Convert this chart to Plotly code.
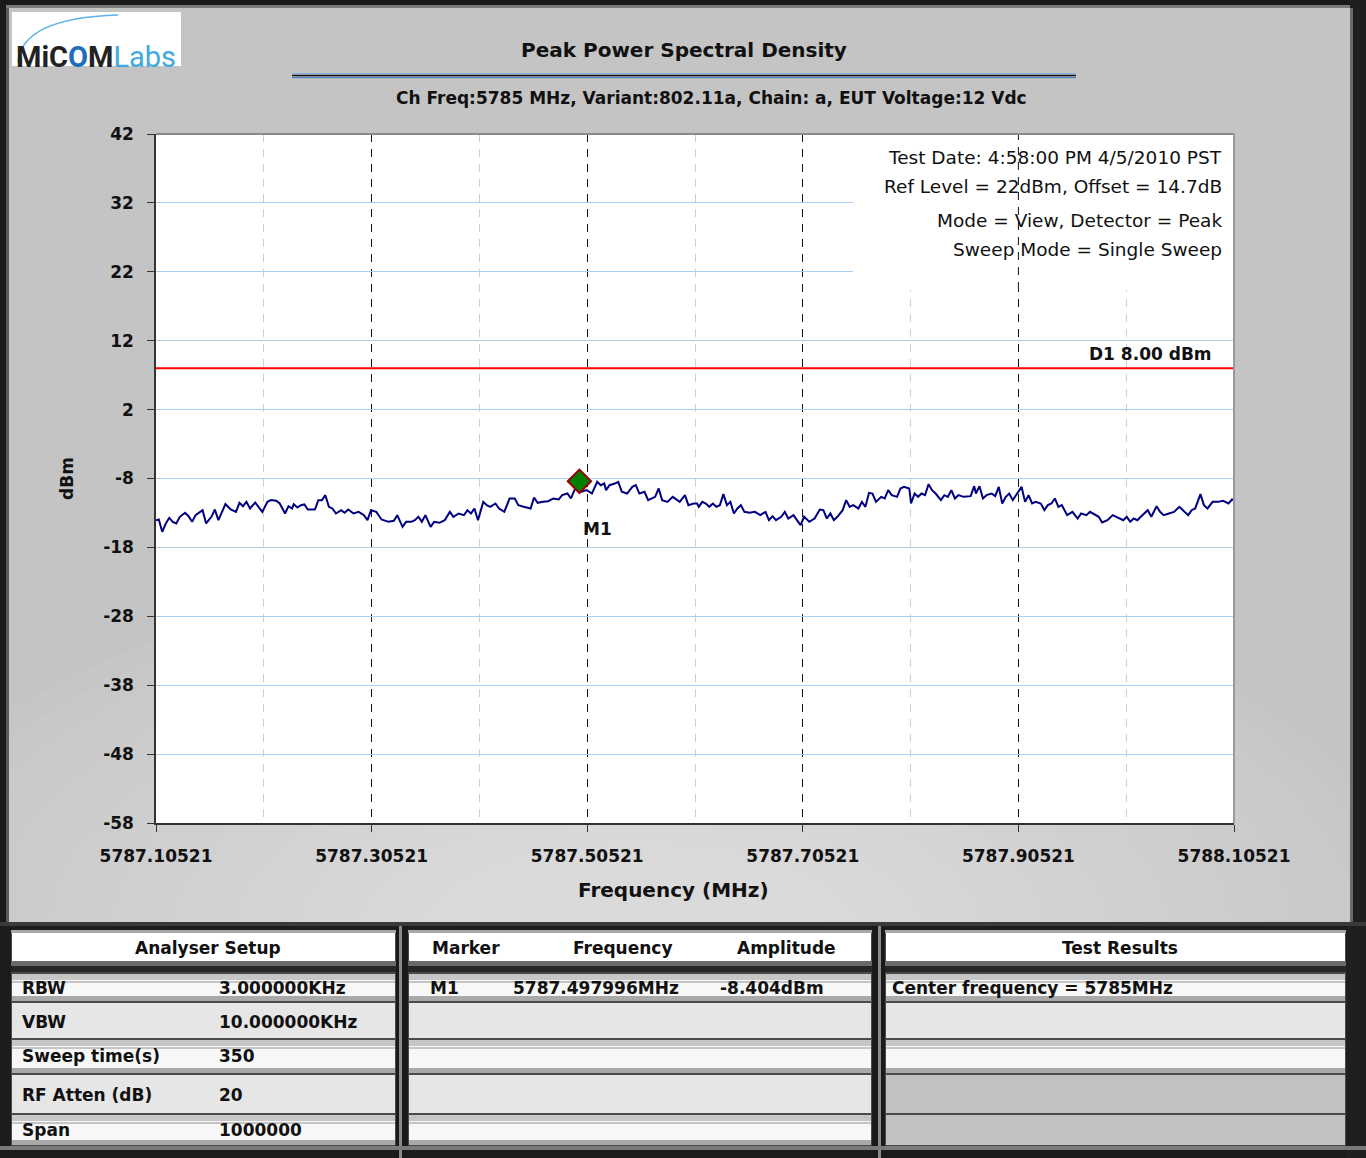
import plotly.graph_objects as go

# ---- chart data ----
START_MHZ = 5787.10521
STOP_MHZ = 5788.10521
X_TICKS = [5787.10521, 5787.30521, 5787.50521, 5787.70521, 5787.90521, 5788.10521]
Y_TICKS = [-58, -48, -38, -28, -18, -8, 2, 12, 22, 32, 42]

# trace: offset from START_MHZ in kHz, level in dBm
TRACE_KHZ = [
    0, 2.6, 5.8, 9.1, 12.3, 15.6, 18.8, 22.1, 27.0, 30.2, 33.5, 36.7, 43.2, 46.5,
    51.4, 54.6, 57.9, 61.1, 64.4, 69.3, 74.2, 77.4, 80.7, 83.9, 87.2, 92.0, 95.3,
    98.6, 103.4, 106.7, 111.6, 114.8, 119.7, 122.9, 126.2, 127.8, 131.1, 134.4,
    137.6, 140.9, 147.4, 150.6, 153.9, 157.1, 160.4, 163.6, 166.9, 171.8, 175.0,
    178.3, 183.2, 188.0, 192.9, 196.2, 199.4, 204.3, 209.2, 215.7, 220.6, 223.8,
    228.7, 232.0, 236.9, 240.1, 243.4, 246.6, 249.9, 254.7, 258.0, 262.9, 267.8,
    272.6, 275.9, 280.8, 285.7, 288.9, 292.2, 295.4, 298.7, 303.6, 306.8, 310.1,
    314.9, 318.2, 323.1, 328.0, 332.8, 336.1, 341.0, 347.5, 350.7, 354.0, 358.9,
    363.8, 368.6, 373.5, 376.8, 381.7, 384.9, 388.2, 391.4, 392.8, 394.7, 399.6,
    404.4, 409.3, 412.6, 415.8, 417.5, 420.7, 425.6, 428.8, 432.1, 437.0, 441.9,
    445.1, 448.4, 453.2, 456.5, 463.0, 466.3, 469.5, 474.4, 479.3, 485.8, 490.7,
    493.9, 498.8, 501.9, 503.5, 506.8, 510.0, 513.3, 516.6, 519.8, 523.1, 526.3,
    529.6, 532.8, 536.1, 539.3, 542.6, 545.8, 550.7, 555.6, 560.5, 565.4, 568.6,
    571.9, 575.1, 580.0, 583.3, 586.5, 591.4, 594.6, 597.9, 601.2, 606.0, 610.9,
    615.8, 619.1, 622.3, 625.6, 628.8, 632.1, 637.0, 640.2, 643.5, 646.7, 651.6,
    654.8, 658.1, 661.4, 664.6, 667.9, 672.7, 676.0, 679.2, 682.5, 687.4, 690.6,
    693.9, 698.8, 700.4, 703.7, 706.9, 710.2, 713.4, 716.7, 719.9, 723.2, 728.1,
    731.3, 734.6, 737.8, 741.1, 744.3, 749.2, 755.7, 759.0, 760.6, 763.9, 767.1,
    770.4, 775.2, 778.5, 781.8, 785.0, 788.3, 791.5, 794.8, 799.6, 802.9, 806.2,
    809.4, 812.7, 815.9, 820.8, 824.1, 827.3, 830.6, 833.8, 837.1, 840.3, 845.2,
    850.1, 855.0, 858.2, 863.1, 866.4, 869.6, 874.5, 877.7, 882.6, 887.5, 892.4,
    897.3, 900.5, 903.8, 907.0, 910.3, 913.5, 916.8, 920.0, 923.3, 928.2, 931.4,
    934.7, 939.6, 944.4, 949.3, 952.6, 957.5, 960.7, 964.0, 968.9, 972.1, 975.4,
    980.2, 985.1, 990.0, 994.9, 998.2, 1000.0,
]
TRACE_DBM = [
    -14.05, -13.95, -15.74, -14.53, -13.71, -14.29, -14.53, -13.56, -12.98, -13.47,
    -14.29, -13.32, -12.60, -14.53, -13.56, -12.50, -14.05, -12.84, -11.72, -12.50,
    -12.84, -11.53, -12.02, -11.39, -12.35, -11.48, -12.11, -12.84, -11.39, -11.14,
    -11.24, -11.63, -13.08, -12.02, -12.35, -11.72, -12.21, -11.87, -11.77, -12.50,
    -12.50, -11.14, -11.14, -10.42, -12.11, -12.35, -13.08, -12.60, -12.98, -12.50,
    -13.08, -12.84, -13.32, -14.05, -12.60, -12.84, -13.95, -14.29, -14.14, -13.32,
    -15.01, -14.29, -14.29, -14.05, -13.56, -14.29, -13.32, -15.01, -14.29, -14.43,
    -14.05, -12.84, -13.56, -13.08, -13.32, -12.60, -13.08, -12.35, -14.05, -11.39,
    -11.87, -12.11, -11.63, -12.35, -12.84, -10.90, -10.90, -11.87, -12.11, -12.35,
    -10.76, -11.53, -11.39, -11.29, -10.90, -11.05, -10.42, -10.18, -10.90, -9.69,
    -8.97, -8.40, -9.93, -9.69, -10.18, -8.48, -8.97, -8.73, -9.69, -8.97,
    -8.73, -8.48, -9.93, -10.18, -9.21, -8.97, -10.18, -9.93, -11.14, -10.66,
    -9.45, -11.14, -11.39, -10.66, -11.39, -10.42, -11.87, -11.63, -11.63, -12.11,
    -11.39, -11.63, -12.11, -11.63, -12.11, -11.87, -10.27, -11.87, -11.39, -13.08,
    -12.35, -11.87, -12.84, -12.98, -12.84, -13.32, -12.84, -14.05, -13.47, -14.05,
    -13.56, -12.84, -13.81, -13.32, -14.05, -14.77, -13.56, -14.29, -13.81, -12.50,
    -12.60, -13.81, -13.08, -14.05, -13.56, -12.60, -11.14, -12.11, -11.87, -12.35,
    -11.39, -12.11, -10.08, -10.18, -11.39, -10.66, -10.90, -9.69, -10.42, -10.66,
    -9.45, -9.21, -9.45, -11.63, -10.18, -10.66, -10.18, -10.42, -8.82, -9.69,
    -10.18, -11.14, -10.42, -10.66, -9.69, -10.90, -10.42, -10.66, -10.56, -9.11,
    -10.18, -9.11, -10.90, -10.42, -10.18, -10.56, -9.21, -11.63, -10.66, -10.18,
    -11.14, -9.93, -9.21, -11.39, -10.42, -11.63, -11.39, -11.63, -12.60, -11.87,
    -11.63, -10.90, -12.11, -11.87, -13.32, -12.84, -13.81, -13.08, -13.32, -12.84,
    -13.08, -13.56, -14.39, -14.05, -13.32, -13.66, -14.05, -13.56, -14.29, -13.81,
    -14.05, -13.56, -13.08, -12.60, -13.56, -12.02, -12.84, -13.32, -13.08, -12.84,
    -12.11, -12.60, -13.32, -12.60, -12.35, -10.27, -11.87, -12.35, -11.39, -11.39,
    -11.24, -11.63, -11.05, -11.14,
]

LIMIT_DBM = 8.0
M1_MHZ = 5787.497996
M1_DBM = -8.404

INFO_LINES = [
    "Test Date: 4:58:00 PM 4/5/2010 PST",
    "Ref Level = 22dBm, Offset = 14.7dB",
    "Mode = View, Detector = Peak",
    "Sweep Mode = Single Sweep",
]
SETUP_LABELS = ["RBW", "VBW", "Sweep time(s)", "RF Atten (dB)", "Span"]
SETUP_VALUES = ["3.000000KHz", "10.000000KHz", "350", "20", "1000000"]
MARKER_HEADERS = ["Marker", "Frequency", "Amplitude"]
MARKER_ROW = ["M1", "5787.497996MHz", "-8.404dBm"]
RESULT_LINES = ["Center frequency = 5785MHz"]

# ---- page geometry (pixels of the 1366 x 1158 page) ----
W, H = 1366, 1158
L, R, T, B = 156, 1234, 134, 823
FONT = "DejaVu Sans, sans-serif"
MAJOR_DASH = "8px,7px"


def px(x):
    return (x - L) / (R - L)


def py(y):
    return (B - y) / (B - T)


shapes = []


def box(x0, y0, x1, y1, fill, layer="below", opacity=1.0):
    shapes.append(dict(type="rect", xref="paper", yref="paper",
                       x0=px(x0), x1=px(x1), y0=py(y1), y1=py(y0),
                       fillcolor=fill, line=dict(width=0), layer=layer, opacity=opacity))


def hline(x0, x1, y, color, width=1, layer="below"):
    shapes.append(dict(type="line", xref="paper", yref="paper",
                       x0=px(x0), x1=px(x1), y0=py(y), y1=py(y),
                       line=dict(color=color, width=width), layer=layer))


annotations = []


def text(x, y, s, size=17, bold=True, anchor="left", color="#111", angle=0):
    annotations.append(dict(
        x=px(x), y=py(y), xref="paper", yref="paper", showarrow=False,
        text=f"<b>{s}</b>" if bold else s, xanchor=anchor, yanchor="middle",
        textangle=angle, font=dict(family=FONT, size=size, color=color),
    ))


# soft light glow low in the chart panel (radial-ish gradient)
for i in range(20):
    rx, ry = 780 - 31 * i, 370 - 15.5 * i
    shapes.append(dict(type="circle", xref="paper", yref="paper",
                       x0=px(640 - rx), x1=px(640 + rx), y0=py(930 + ry), y1=py(930 - ry),
                       fillcolor="white", opacity=0.034, line=dict(width=0), layer="below"))

# outer frame
box(0, 0, W, 5, "#1a1a1a")
box(0, 5, W, 8, "#7a7a7a")
box(0, 0, 6, 922, "#1a1a1a")
box(6, 8, 9, 922, "#5a5a5a")
box(1350, 0, W, 922, "#1f1f1f")
box(1350, 8, 1353, 922, "#6a6a6a")

# logo
box(12, 12, 181, 66, "white")
shapes.append(dict(type="path", xref="paper", yref="paper", layer="below",
                   path=f"M {px(18)},{py(62)} Q {px(22)},{py(18)} {px(118)},{py(15)}",
                   line=dict(color="#5fb3e6", width=1.5)))
annotations.append(dict(
    x=px(14), y=py(38), xref="paper", yref="paper", showarrow=False, xanchor="left",
    text="<b>MiC<span style='color:#1c6fb8'>O</span>M</b><span style='color:#3fa9e0'>Labs</span>",
    font=dict(family="Roboto, sans-serif", size=29, color="#222"),
))

# title block
text(684, 50, "Peak Power Spectral Density", size=20, anchor="center")
hline(292, 1076, 73.5, "#7fb2e0", 1)
hline(292, 1076, 75.5, "#111111", 1.5)
hline(292, 1076, 77.5, "#4f7fbf", 1.5)
text(711, 98, "Ch Freq:5785 MHz, Variant:802.11a, Chain: a, EUT Voltage:12 Vdc",
     size=17, anchor="center")

# white box behind the test info: covers the grid (no trace reaches up there)
BOX_LEFT, BOX_BOTTOM = 853, 290
box(BOX_LEFT, T, R, BOX_BOTTOM, "white", layer="above")
# the major dashed line that shows through the box
box_left_mhz = START_MHZ + px(BOX_LEFT) * (STOP_MHZ - START_MHZ)
for xv in X_TICKS[1:-1]:
    if xv > box_left_mhz:
        shapes.append(dict(type="line", xref="x", yref="paper", x0=xv, x1=xv,
                           y0=py(BOX_BOTTOM), y1=1,
                           line=dict(color="#111", width=1, dash=MAJOR_DASH), layer="above"))
# plot border (top / right)
hline(156, 1235, 134, "#8a8a8a", 2, layer="above")
shapes.append(dict(type="line", xref="paper", yref="paper", x0=px(1234), x1=px(1234),
                   y0=py(823), y1=py(133), line=dict(color="#9a9a9a", width=2), layer="above"))

for line, y in zip(INFO_LINES, [158, 187, 220, 249]):
    text(1224, y, line, size=18.5, bold=False, anchor="right")

text(673, 890, "Frequency (MHz)", size=20, anchor="center")
text(67, 479, "dBm", size=17, angle=-90, anchor="center")

# ---- bottom tables ----
box(0, 922, W, H, "#1c1c1c")
PANELS = [(11, 396), (408, 872), (885, 1346)]
ROWS = [(974, 1001), (1003, 1038), (1040, 1073), (1075, 1113), (1115, 1145)]
for pi, (x0, x1) in enumerate(PANELS):
    box(x0, 930, x1, 1146, "#4a4a4a")
    box(x0, 930, x1, 933, "#a8a8a8")
    box(x0 + 1, 933, x1 - 1, 961, "white")
    box(x0, 961, x1, 966, "#6a6a6a")
    box(x0, 966, x1, 972, "#262626")
    for ri, (y0, y1) in enumerate(ROWS):
        if pi == 2 and ri >= 3:
            box(x0 + 1, y0, x1 - 1, y1, "#c2c2c2")
            continue
        if ri % 2 == 0:
            box(x0 + 1, y0, x1 - 1, y1, "#f7f7f7")
            box(x0 + 1, y0, x1 - 1, y0 + 6, "#c6c6c6")
            hline(x0 + 1, x1 - 1, y0 + 8, "#7a7a7a", 0.8)
            box(x0 + 1, y1 - 5, x1 - 1, y1, "#a9a9a9")
        else:
            box(x0 + 1, y0, x1 - 1, y1, "#e6e6e6")
# dividers between panels
box(396, 926, 408, H, "#1a1a1a")
box(399, 926, 402, H, "#8a8a8a")
box(872, 926, 885, H, "#1a1a1a")
box(878, 926, 881, H, "#8a8a8a")
box(1346, 922, W, H, "#1f1f1f")
box(0, 922, W, 926, "#3a3a3a")
box(0, 1146, W, 1150, "#7a7a7a")

ROW_TEXT_Y = [988, 1022, 1056, 1095, 1130]
text(208, 948, "Analyser Setup", anchor="center")
for lab, val, y in zip(SETUP_LABELS, SETUP_VALUES, ROW_TEXT_Y):
    text(20, y, lab)
    text(217, y, val)

for hdr, x in zip(MARKER_HEADERS, [430, 571, 735]):
    text(x, 948, hdr)
for cell, x in zip(MARKER_ROW, [428, 511, 718]):
    text(x, ROW_TEXT_Y[0], cell)

text(1120, 948, "Test Results", anchor="center")
for line, y in zip(RESULT_LINES, ROW_TEXT_Y):
    text(890, y, line)

# ---- the plot itself ----
freq = [START_MHZ + k / 1000 for k in TRACE_KHZ]
minor_x = [(a + b) / 2 for a, b in zip(X_TICKS, X_TICKS[1:])]

fig = go.Figure()
fig.add_trace(go.Scatter(x=[START_MHZ, STOP_MHZ], y=[LIMIT_DBM, LIMIT_DBM], mode="lines",
                         line=dict(color="#ff0000", width=2), hoverinfo="skip"))
fig.add_trace(go.Scatter(x=freq, y=TRACE_DBM, mode="lines",
                         line=dict(color="#000080", width=2)))
fig.add_trace(go.Scatter(x=[M1_MHZ], y=[M1_DBM], mode="markers",
                         marker=dict(symbol="diamond", size=18, color="#008000",
                                     line=dict(color="#9b0000", width=2))))

annotations.append(dict(x=STOP_MHZ, y=LIMIT_DBM, xref="x", yref="y", showarrow=False,
                        text=f"<b>D1 {LIMIT_DBM:.2f} dBm</b>", xanchor="right", yanchor="bottom",
                        xshift=-20, yshift=2, font=dict(family=FONT, size=17, color="#111")))
annotations.append(dict(x=M1_MHZ, y=M1_DBM, xref="x", yref="y", showarrow=False,
                        text="<b>M1</b>", xanchor="center", yanchor="middle",
                        xshift=18, yshift=-48, font=dict(family=FONT, size=17, color="#111")))

fig.update_layout(
    width=W, height=H, autosize=False,
    margin=dict(l=L, r=W - R, t=T, b=H - B, pad=0),
    paper_bgcolor="#c4c4c4", plot_bgcolor="white",
    showlegend=False,
    font=dict(family=FONT, size=17, color="#111"),
    shapes=shapes, annotations=annotations,
    xaxis=dict(
        range=[START_MHZ, STOP_MHZ], tickmode="array", tickvals=X_TICKS,
        ticktext=[f"<b>{v:.5f}</b>" for v in X_TICKS],
        showgrid=True, gridcolor="#111", gridwidth=1, griddash=MAJOR_DASH,
        zeroline=False, showline=True, linecolor="#333", linewidth=1.5,
        ticks="outside", ticklen=7, tickcolor="#333", ticklabelstandoff=10,
        minor=dict(tickvals=minor_x, showgrid=True, gridcolor="#cfcfcf",
                   griddash=MAJOR_DASH, gridwidth=1),
        tickfont=dict(size=17),
    ),
    yaxis=dict(
        range=[-58, 42], tickmode="array", tickvals=Y_TICKS,
        ticktext=[f"<b>{v}</b>" for v in Y_TICKS],
        showgrid=True, gridcolor="#a6d1f5", gridwidth=1, zeroline=False,
        showline=True, linecolor="#333", linewidth=1.5,
        ticks="outside", ticklen=7, tickcolor="#333", ticklabelstandoff=10,
        tickfont=dict(size=17),
    ),
)

fig.write_html("out.html", config={"displayModeBar": False},
               post_script="document.body.style.margin='0';")
